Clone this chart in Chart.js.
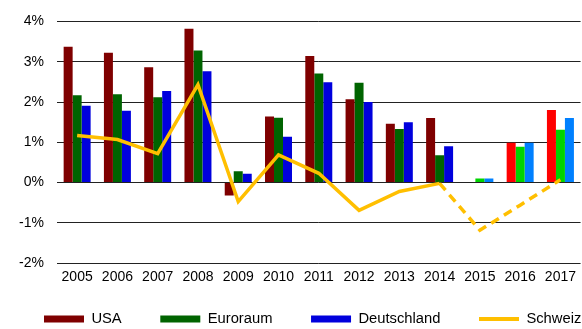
<!DOCTYPE html>
<html>
<head>
<meta charset="utf-8">
<script src="https://cdn.jsdelivr.net/npm/chart.js@4"></script>
<style>
  html, body { margin: 0; padding: 0; background: #fff; }
  #wrap { width: 582px; height: 329px; }
</style>
</head>
<body>
<div id="wrap"><canvas id="growthChart"></canvas></div>
<script>
const years = ['2005', '2006', '2007', '2008', '2009', '2010', '2011', '2012', '2013', '2014', '2015', '2016', '2017'];
const usa = [3.37, 3.22, 2.86, 3.82, -0.32, 1.64, 3.14, 2.07, 1.46, 1.60, null, 0.99, 1.80];
const euroraum = [2.17, 2.19, 2.12, 3.28, 0.28, 1.61, 2.71, 2.48, 1.33, 0.68, 0.10, 0.89, 1.31];
const deutschland = [1.91, 1.78, 2.27, 2.76, 0.22, 1.14, 2.49, 2.00, 1.50, 0.90, 0.10, 0.99, 1.60];
const schweiz = [1.17, 1.07, 0.72, 2.43, -0.47, 0.69, 0.23, -0.69, -0.22, -0.02, -1.18, -0.56, 0.07];
const yTicks = [-2, -1, 0, 1, 2, 3, 4];

// from 2015 on the values are forecasts: lighter bars, dashed line
const firstForecast = 10;
function barColors(past, forecast) {
  return years.map((y, i) => i >= firstForecast ? forecast : past);
}

const family = '"Liberation Sans", Arial, sans-serif';
const tickFont = { family: family, size: 14 };
const legendFont = { family: family, size: 14.75 };
const legendGap = 38.6;
const padLeft = 5.4;
Chart.defaults.color = '#000';

// keep the legend box short so the x labels get their room, let all four
// entries share one row, then pull the row up so it sits at y=319
const legendPlace = {
  id: 'legendPlace',
  beforeLayout(chart) {
    const lg = chart.legend;
    if (!lg || lg._fitWrapped) return;
    const fit = lg.fit.bind(lg);
    lg.fit = function () {
      const mw = this.maxWidth;
      this.maxWidth = mw + 200;
      fit();
      this.maxWidth = mw;
      this.width = mw;
      this.height = 37;
    };
    lg._fitWrapped = true;
  },
  afterLayout(chart) {
    const lg = chart.legend;
    lg.top = 319 - legendGap - legendFont.size / 2;
    lg.bottom = chart.height;
    lg.height = lg.bottom - lg.top;
    lg.right = chart.width + 80;
    lg.width = lg.right - lg.left;
  }
};

const ctx = document.getElementById('growthChart').getContext('2d');
new Chart(ctx, {
  type: 'bar',
  data: {
    labels: years,
    datasets: [
      { label: 'USA', data: usa, backgroundColor: barColors('#7f0000', '#ff0000'), order: 1 },
      { label: 'Euroraum', data: euroraum, backgroundColor: barColors('#006400', '#00d400'), order: 1 },
      { label: 'Deutschland', data: deutschland, backgroundColor: barColors('#0000dd', '#0080ff'), order: 1 },
      {
        type: 'line',
        label: 'Schweiz',
        data: schweiz,
        borderColor: '#ffbf00',
        backgroundColor: '#ffbf00',
        borderWidth: 3.5,
        pointRadius: 0,
        tension: 0,
        order: 0,
        segment: {
          borderDash: c => c.p0DataIndex >= firstForecast - 1 ? [9, 6] : undefined
        }
      }
    ]
  },
  plugins: [legendPlace],
  options: {
    responsive: true,
    maintainAspectRatio: false,
    animation: false,
    layout: { padding: { left: padLeft, right: 0, top: 19, bottom: 0 } },
    datasets: {
      bar: { categoryPercentage: 0.67, barPercentage: 1.0 }
    },
    scales: {
      x: {
        grid: { display: false, drawTicks: false },
        border: { display: false },
        ticks: { font: tickFont, padding: 6, maxRotation: 0, autoSkip: false }
      },
      y: {
        min: -2,
        max: 4,
        afterBuildTicks: s => { s.ticks = yTicks.map(v => ({ value: v })); },
        grid: { color: '#222', lineWidth: 1, drawTicks: false },
        border: { display: false },
        ticks: { font: tickFont, padding: 13, callback: v => v + '%' },
        afterFit: s => { s.width = 57 - padLeft; }
      }
    },
    plugins: {
      tooltip: { enabled: false },
      legend: {
        position: 'bottom',
        align: 'start',
        labels: {
          font: legendFont,
          usePointStyle: true,
          pointStyleWidth: 40,
          boxHeight: 7,
          padding: legendGap,
          sort: (a, b) => a.datasetIndex - b.datasetIndex,
          generateLabels: chart => {
            const items = Chart.defaults.plugins.legend.labels.generateLabels(chart);
            items.forEach(it => {
              const ds = chart.data.datasets[it.datasetIndex];
              it.lineDash = [];
              it.rotation = 0;
              if (ds.type === 'line') {
                it.pointStyle = 'line';
                it.strokeStyle = ds.borderColor;
                it.lineWidth = 4;
              } else {
                it.pointStyle = 'rect';
                it.fillStyle = ds.backgroundColor[0];
                it.lineWidth = 0;
              }
            });
            return items;
          }
        }
      }
    }
  }
});
</script>
</body>
</html>
